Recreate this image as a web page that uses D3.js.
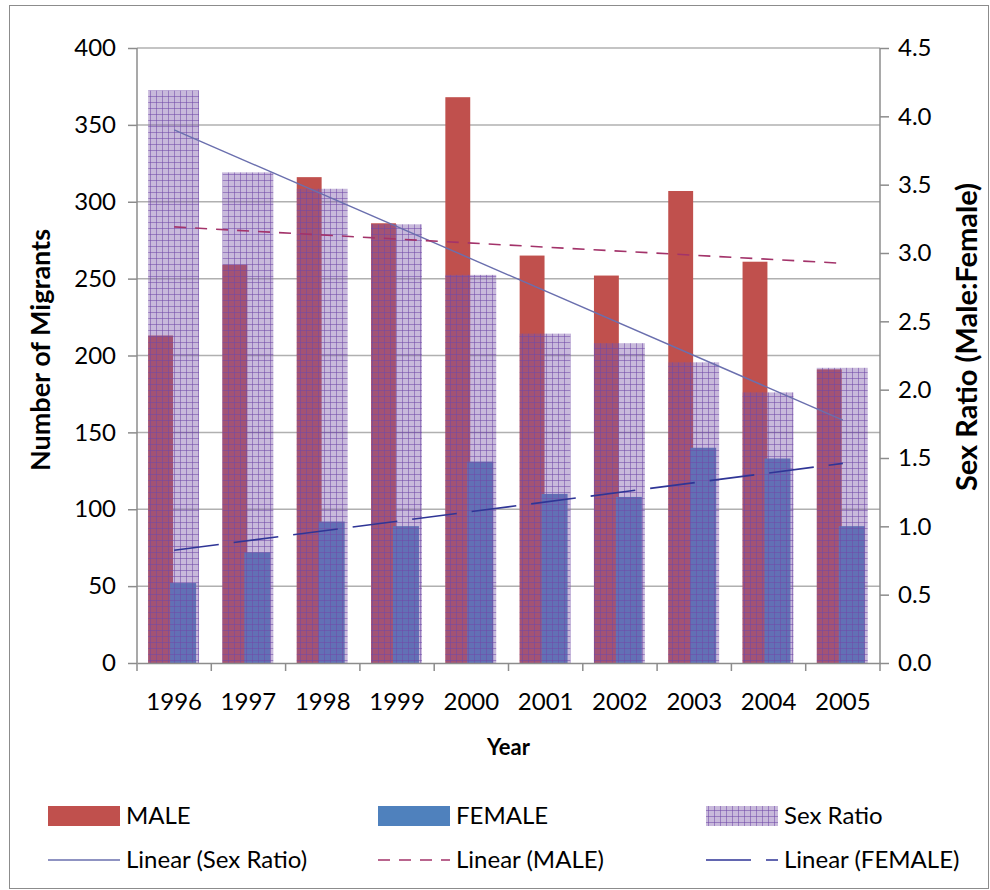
<!DOCTYPE html>
<html>
<head>
<meta charset="utf-8">
<script src="https://cdn.jsdelivr.net/npm/d3@7"></script>
<style>
  html, body { margin: 0; padding: 0; background: #fff; }
  svg { display: block; }
  text { font-family: Lato, "Open Sans", sans-serif; fill: #000; }
</style>
</head>
<body>
<svg id="chart" width="990" height="890"></svg>
<script>
// Migrant counts by year and the male:female sex ratio
const years = ["1996", "1997", "1998", "1999", "2000", "2001", "2002", "2003", "2004", "2005"];
const male = [213, 259, 316, 286, 368, 265, 252, 307, 261, 191];
const female = [52, 72, 92, 89, 131, 110, 108, 140, 133, 89];
const sexRatio = [4.19, 3.59, 3.47, 3.21, 2.84, 2.41, 2.34, 2.20, 1.98, 2.16];
const leftTicks = [0, 50, 100, 150, 200, 250, 300, 350, 400];
const rightTicks = [0, 0.5, 1, 1.5, 2, 2.5, 3, 3.5, 4, 4.5];

const svg = d3.select("#chart");

const plot = { left: 137, right: 880, top: 48, bottom: 663 };

const x = d3.scaleBand().domain(years).range([plot.left, plot.right]).padding(0);
const yL = d3.scaleLinear().domain([0, 400]).range([plot.bottom, plot.top]);
const yR = d3.scaleLinear().domain([0, 4.5]).range([plot.bottom, plot.top]);
const bw = x.bandwidth();

// least-squares trend over the category index
function linearFit(vals) {
  const n = vals.length;
  const mx = (n - 1) / 2;
  const my = d3.mean(vals);
  let sxy = 0, sxx = 0;
  vals.forEach((v, i) => { sxy += (i - mx) * (v - my); sxx += (i - mx) * (i - mx); });
  const b = sxy / sxx;
  return [my - b * mx, my + b * (n - 1 - mx)];
}

// hatch pattern for the sex-ratio bars
const defs = svg.append("defs");
const pat = defs.append("pattern")
  .attr("id", "gridHatch")
  .attr("patternUnits", "userSpaceOnUse")
  .attr("width", 6).attr("height", 6);
pat.append("rect").attr("width", 6).attr("height", 6)
  .attr("fill", "rgb(124,89,169)").attr("fill-opacity", 0.42);
pat.append("path").attr("d", "M0,0.5H6M0.5,0V6")
  .attr("stroke", "rgb(112,72,168)").attr("stroke-opacity", 0.55).attr("stroke-width", 1);

// outer frame
svg.append("rect").attr("x", 9.5).attr("y", 5.5).attr("width", 979).attr("height", 883)
  .attr("fill", "none").attr("stroke", "#8c8c8c").attr("stroke-width", 1);

// horizontal gridlines
svg.append("g").selectAll("line").data(leftTicks.filter(d => d > 0)).join("line")
  .attr("x1", plot.left).attr("x2", plot.right)
  .attr("y1", d => yL(d)).attr("y2", d => yL(d))
  .attr("stroke", "#b0b0b0").attr("stroke-width", 1.5);

// bars
svg.append("g").selectAll("rect").data(male).join("rect")
  .attr("x", (d, i) => x(years[i]) + bw * 0.150)
  .attr("width", bw * 0.335)
  .attr("y", d => yL(d)).attr("height", d => yL(0) - yL(d))
  .attr("fill", "#C0504D");

svg.append("g").selectAll("rect").data(female).join("rect")
  .attr("x", (d, i) => x(years[i]) + bw * 0.445)
  .attr("width", bw * 0.35)
  .attr("y", d => yL(d)).attr("height", d => yL(0) - yL(d))
  .attr("fill", "#4F81BD");

svg.append("g").selectAll("rect").data(sexRatio).join("rect")
  .attr("x", (d, i) => x(years[i]) + bw * 0.150)
  .attr("width", bw * 0.685)
  .attr("y", d => yR(d)).attr("height", d => yR(0) - yR(d))
  .attr("fill", "url(#gridHatch)");

// trend lines
const xFirst = x(years[0]) + bw / 2;
const xLast = x(years[years.length - 1]) + bw / 2;
const srFit = linearFit(sexRatio);
const mFit = linearFit(male);
const fFit = linearFit(female);

svg.append("line")
  .attr("x1", xFirst).attr("x2", xLast).attr("y1", yR(srFit[0])).attr("y2", yR(srFit[1]))
  .attr("stroke", "#6a6fae").attr("stroke-width", 1.4);
svg.append("line")
  .attr("x1", xFirst).attr("x2", xLast).attr("y1", yL(mFit[0])).attr("y2", yL(mFit[1]))
  .attr("stroke", "#a3336a").attr("stroke-width", 1.6).attr("stroke-dasharray", "12,9");
svg.append("line")
  .attr("x1", xFirst).attr("x2", xLast).attr("y1", yL(fFit[0])).attr("y2", yL(fFit[1]))
  .attr("stroke", "#2f3596").attr("stroke-width", 1.6).attr("stroke-dasharray", "45,15");

// axes
const axisColor = "#8c8c8c";
const gL = svg.append("g").attr("transform", `translate(${plot.left},0)`)
  .call(d3.axisLeft(yL).tickValues(leftTicks).tickSize(9).tickPadding(12).tickFormat(d3.format("d")));
const gR = svg.append("g").attr("transform", `translate(${plot.right},0)`)
  .call(d3.axisRight(yR).tickValues(rightTicks).tickSize(9).tickPadding(9).tickFormat(d3.format(".1f")));
const gB = svg.append("g").attr("transform", `translate(0,${plot.bottom})`)
  .call(d3.axisBottom(x).tickSize(0).tickPadding(30));
[gL, gR, gB].forEach(g => {
  g.select(".domain").attr("stroke", axisColor).attr("stroke-width", 1.5);
  g.selectAll(".tick line").attr("stroke", axisColor).attr("stroke-width", 1.5);
  g.selectAll("text").attr("font-size", 24).attr("font-family", "Lato, sans-serif").attr("fill", "#000");
});
gL.select(".domain").attr("d", `M0,${plot.top}V${plot.bottom}`);
gR.select(".domain").attr("d", `M0,${plot.top}V${plot.bottom}`);
// category boundary ticks below the axis
svg.append("g").selectAll("line").data(d3.range(years.length + 1)).join("line")
  .attr("x1", i => plot.left + i * bw).attr("x2", i => plot.left + i * bw)
  .attr("y1", plot.bottom).attr("y2", plot.bottom + 8)
  .attr("stroke", axisColor).attr("stroke-width", 1.5);

// axis titles
svg.append("text").attr("transform", `translate(50,350) rotate(-90)`)
  .attr("text-anchor", "middle").attr("font-size", 27).attr("font-weight", "bold")
  .text("Number of Migrants");
svg.append("text").attr("transform", `translate(977,337) rotate(-90)`)
  .attr("text-anchor", "middle").attr("font-size", 29).attr("font-weight", "bold")
  .text("Sex Ratio (Male:Female)");
svg.append("text").attr("x", (plot.left + plot.right) / 2).attr("y", 755)
  .attr("text-anchor", "middle").attr("font-size", 22).attr("font-weight", "bold")
  .text("Year");

// legend
const legendItems = [
  { label: "MALE", kind: "rect", fill: "#C0504D", x: 48, row: 0 },
  { label: "FEMALE", kind: "rect", fill: "#4F81BD", x: 378, row: 0 },
  { label: "Sex Ratio", kind: "rect", fill: "url(#gridHatch)", x: 706, row: 0 },
  { label: "Linear (Sex Ratio)", kind: "line", stroke: "#6a6fae", dash: null, x: 48, row: 1 },
  { label: "Linear (MALE)", kind: "line", stroke: "#a3336a", dash: "12,9", x: 378, row: 1 },
  { label: "Linear (FEMALE)", kind: "line", stroke: "#2f3596", dash: "45,15", x: 706, row: 1 }
];
const rowY = [816, 860];
const lg = svg.append("g");
legendItems.forEach(it => {
  const cy = rowY[it.row];
  if (it.kind === "rect") {
    lg.append("rect").attr("x", it.x).attr("y", cy - 10).attr("width", 72).attr("height", 20)
      .attr("fill", it.fill);
  } else {
    lg.append("line").attr("x1", it.x).attr("x2", it.x + 72).attr("y1", cy).attr("y2", cy)
      .attr("stroke", it.stroke).attr("stroke-width", 1.6)
      .attr("stroke-dasharray", it.dash);
  }
  lg.append("text").attr("x", it.x + 78).attr("y", cy).attr("dy", "0.35em")
    .attr("font-size", 24).text(it.label);
});
</script>
</body>
</html>
